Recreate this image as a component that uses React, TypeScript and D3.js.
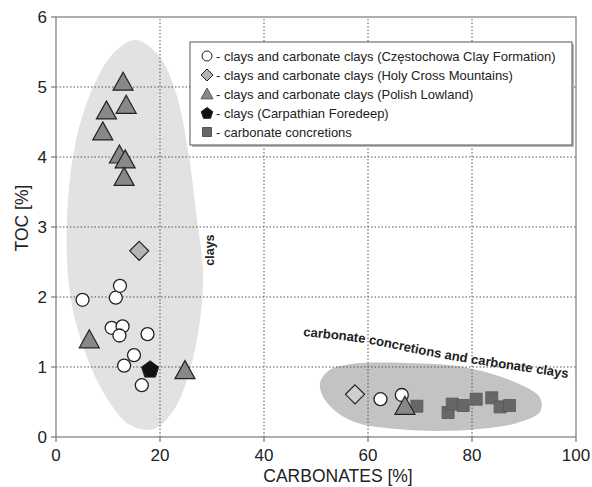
import React from "react";
import * as d3 from "d3";

const W = 592;
const H = 487;
const M = { left: 56, right: 16, top: 17, bottom: 50 };

const xTicks = [0, 20, 40, 60, 80, 100];
const yTicks = [0, 1, 2, 3, 4, 5, 6];
const gridX = [20, 40, 60, 80];
const gridY = [1, 2, 3, 4, 5];

const circlesX = [5.1, 11.5, 12.3, 10.7, 12.8, 12.2, 17.6, 15.0, 13.1, 16.5, 62.4, 66.5];
const circlesY = [1.96, 1.99, 2.16, 1.56, 1.58, 1.45, 1.47, 1.17, 1.02, 0.74, 0.54, 0.6];
const diamondsX = [16.0, 57.5];
const diamondsY = [2.66, 0.61];
const squaresX = [69.4, 75.4, 76.2, 78.3, 80.8, 83.8, 85.4, 87.2];
const squaresY = [0.44, 0.35, 0.47, 0.45, 0.54, 0.56, 0.43, 0.45];
const trianglesX = [12.9, 13.5, 9.7, 9.0, 12.2, 13.3, 13.1, 6.4, 24.8, 67.1];
const trianglesY = [5.07, 4.74, 4.66, 4.36, 4.03, 3.96, 3.71, 1.39, 0.95, 0.44];
const pentagonX = [18.1];
const pentagonY = [0.97];

const claysEnvelope: [number, number][] = [
  [15.19, 5.67], [19.62, 5.46], [22.88, 4.96], [25.38, 4.1], [27.12, 3.1], [28.27, 2.39],
  [27.69, 1.67], [25.77, 0.96], [22.69, 0.39], [18.65, 0.11], [14.23, 0.17], [10.0, 0.53],
  [6.15, 1.1], [3.27, 1.81], [2.12, 2.53], [2.31, 3.39], [3.85, 4.24], [6.92, 4.96], [10.77, 5.46],
];
const carbEnvelope: [number, number][] = [
  [50.77, 0.77], [52.69, 0.96], [56.54, 1.04], [66.15, 1.06], [79.04, 0.99], [88.65, 0.77],
  [93.08, 0.56], [93.08, 0.36], [88.65, 0.2], [79.04, 0.1], [66.15, 0.11], [56.54, 0.24], [51.73, 0.53],
];
const carbLabelPath: [number, number][] = [
  [47.5, 1.443], [60.38, 1.329], [73.85, 1.129], [99.5, 0.83],
];

const legendLabels = [
  "- clays and carbonate clays (Częstochowa Clay Formation)",
  "- clays and carbonate clays (Holy Cross Mountains)",
  "- clays and carbonate clays (Polish Lowland)",
  "- clays (Carpathian Foredeep)",
  "- carbonate concretions",
];
const legendKinds = ["circle", "diamond", "triangle", "pentagon", "square"];

const FONT = "'Liberation Sans', Arial, Helvetica, sans-serif";

const C = {
  circleFill: "#ffffff",
  diamondFill: "#b4b4b4",
  triangleFill: "#888888",
  pentagonFill: "#111111",
  squareFill: "#676767",
  stroke: "#222222",
};

function symbolPath(kind: string, size: number): string {
  const s = size;
  if (kind === "triangle") {
    const h = s * 0.9;
    return `M0,${-h * 0.55}L${s / 2},${h * 0.45}L${-s / 2},${h * 0.45}Z`;
  }
  if (kind === "diamond") {
    const r = s / 2;
    return `M0,${-r}L${r},0L0,${r}L${-r},0Z`;
  }
  if (kind === "pentagon") {
    const r = s / 2;
    const pts = d3.range(5).map((i) => {
      const a = -Math.PI / 2 + (i * 2 * Math.PI) / 5;
      return [r * Math.cos(a), r * Math.sin(a) + r * 0.08];
    });
    return "M" + pts.map((p) => p.join(",")).join("L") + "Z";
  }
  if (kind === "square") {
    const r = s / 2;
    return `M${-r},${-r}H${r}V${r}H${-r}Z`;
  }
  return d3.symbol(d3.symbolCircle, (Math.PI * s * s) / 4)() || "";
}

export default function App() {
  const x = d3.scaleLinear().domain([0, 100]).range([M.left, W - M.right]);
  const y = d3.scaleLinear().domain([0, 6]).range([H - M.bottom, M.top]);
  const x0 = x(0), x1 = x(100), y0 = y(0), y1 = y(6);

  const env = d3
    .line<[number, number]>()
    .x((d) => x(d[0]))
    .y((d) => y(d[1]))
    .curve(d3.curveCatmullRomClosed.alpha(0.5));
  const labelLine = d3
    .line<[number, number]>()
    .x((d) => x(d[0]))
    .y((d) => y(d[1]))
    .curve(d3.curveNatural);

  const pts = (xs: number[], ys: number[]) => xs.map((v, i) => [v, ys[i]] as [number, number]);

  const legX = 190, legY = 42, legW = 382, legH = 103;

  return (
    <svg
      width={W}
      height={H}
      viewBox={`0 0 ${W} ${H}`}
      style={{ position: "absolute", left: 0, top: 0, background: "#fff" }}
      fontFamily={FONT}
    >
      <rect x={0} y={0} width={W} height={H} fill="#fff" />
      {/* envelopes */}
      <path d={env(claysEnvelope) || ""} fill="#e2e2e2" stroke="none" />
      <path d={env(carbEnvelope) || ""} fill="#c3c3c3" stroke="none" />

      {/* grid */}
      {gridX.map((v) => (
        <line key={"gx" + v} x1={x(v)} x2={x(v)} y1={y0} y2={y1} stroke="#555" strokeWidth={1} strokeDasharray="1.5,2" />
      ))}
      {gridY.map((v) => (
        <line key={"gy" + v} x1={x0} x2={x1} y1={y(v)} y2={y(v)} stroke="#555" strokeWidth={1} strokeDasharray="1.5,2" />
      ))}

      {/* frame */}
      <rect x={x0} y={y1} width={x1 - x0} height={y0 - y1} fill="none" stroke="#7a7a7a" strokeWidth={1.2} />
      {yTicks.map((v) => (
        <g key={"yt" + v}>
          <line x1={x0 - 5} x2={x0} y1={y(v)} y2={y(v)} stroke="#7a7a7a" strokeWidth={1.2} />
          <text x={x0 - 9} y={y(v)} dy="0.36em" textAnchor="end" fontSize={17} fill="#222">
            {v}
          </text>
        </g>
      ))}
      {xTicks.map((v) => (
        <g key={"xt" + v}>
          <line x1={x(v)} x2={x(v)} y1={y0} y2={y0 + 5} stroke="#7a7a7a" strokeWidth={1.2} />
          <text x={x(v)} y={y0 + 24} textAnchor="middle" fontSize={17} fill="#222">
            {v}
          </text>
        </g>
      ))}
      <text x={338} y={482} textAnchor="middle" fontSize={17.5} fill="#222">
        CARBONATES [%]
      </text>
      <text transform={`translate(28,218) rotate(-90)`} textAnchor="middle" fontSize={17.5} fill="#222">
        TOC [%]
      </text>

      {/* area labels */}
      <text transform={`translate(${x(30.4)},${y(2.67)}) rotate(-90)`} textAnchor="middle" fontSize={12.5} fontWeight="bold" fill="#222">
        clays
      </text>
      <defs>
        <path id="carbLabel" d={labelLine(carbLabelPath) || ""} />
      </defs>
      <text fontSize={13} fontWeight="bold" fill="#222">
        <textPath href="#carbLabel" startOffset="0">
          carbonate concretions and carbonate clays
        </textPath>
      </text>

      {/* points */}
      {pts(circlesX, circlesY).map((d, i) => (
        <path key={"c" + i} transform={`translate(${x(d[0])},${y(d[1])})`} d={symbolPath("circle", 13)} fill={C.circleFill} stroke={C.stroke} strokeWidth={1.3} />
      ))}
      {pts(diamondsX, diamondsY).map((d, i) => (
        <path key={"d" + i} transform={`translate(${x(d[0])},${y(d[1])})`} d={symbolPath("diamond", 19)} fill={i === 0 ? C.diamondFill : "#cfcfcf"} stroke={C.stroke} strokeWidth={1.2} />
      ))}
      {pts(squaresX, squaresY).map((d, i) => (
        <path key={"s" + i} transform={`translate(${x(d[0])},${y(d[1])})`} d={symbolPath("square", 12)} fill={C.squareFill} stroke="#555" strokeWidth={0.8} />
      ))}
      {pts(trianglesX, trianglesY).map((d, i) => (
        <path key={"t" + i} transform={`translate(${x(d[0])},${y(d[1])})`} d={symbolPath("triangle", 20)} fill={C.triangleFill} stroke={C.stroke} strokeWidth={1.2} />
      ))}
      {pts(pentagonX, pentagonY).map((d, i) => (
        <path key={"p" + i} transform={`translate(${x(d[0])},${y(d[1])})`} d={symbolPath("pentagon", 18)} fill={C.pentagonFill} stroke={C.stroke} strokeWidth={1} />
      ))}

      {/* legend */}
      <rect x={legX + 2} y={legY + 2} width={legW} height={legH} fill="#bbb" />
      <rect x={legX} y={legY} width={legW} height={legH} fill="#fff" stroke="#555" strokeWidth={1} />
      {legendLabels.map((lab, i) => {
        const cy = legY + 14 + i * 19;
        const kind = legendKinds[i];
        const size = kind === "circle" ? 10 : kind === "square" ? 9 : 12;
        const fill =
          kind === "circle" ? C.circleFill : kind === "diamond" ? C.diamondFill : kind === "triangle" ? C.triangleFill : kind === "pentagon" ? C.pentagonFill : C.squareFill;
        return (
          <g key={"l" + i}>
            <path transform={`translate(${legX + 17},${cy})`} d={symbolPath(kind, size)} fill={fill} stroke={kind === "square" || kind === "triangle" ? "#555" : C.stroke} strokeWidth={1} />
            <text x={legX + 26} y={cy} dy="0.36em" fontSize={13} fill="#222">
              {lab}
            </text>
          </g>
        );
      })}
    </svg>
  );
}
